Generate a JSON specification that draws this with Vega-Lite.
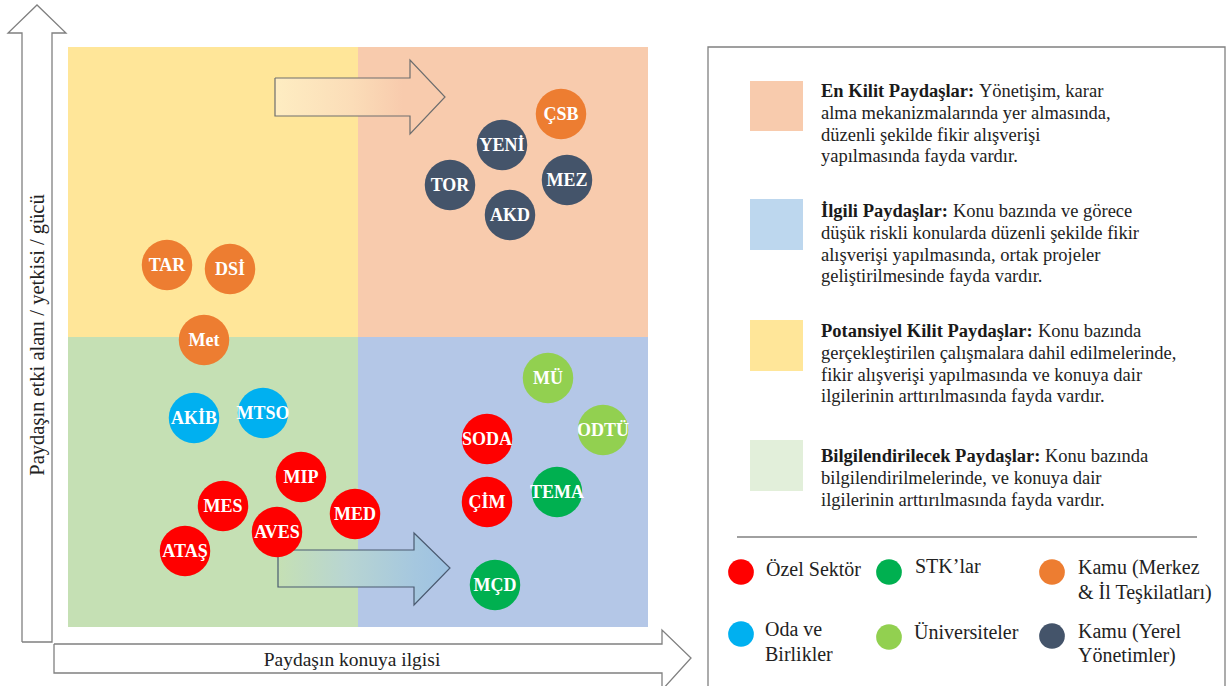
{
  "$schema": "https://vega.github.io/schema/vega-lite/v6.json",
  "width": 1231,
  "height": 686,
  "autosize": {"type": "fit", "contains": "padding"},
  "padding": 0,
  "background": "white",
  "config": {"view": {"stroke": null}, "text": {"font": "Liberation Serif"}},
  "datasets": {
    "zones": [
      {"zone": "Potansiyel Kilit", "x": 0, "x2": 290, "y": 290, "y2": 580},
      {"zone": "En Kilit", "x": 290, "x2": 580, "y": 290, "y2": 580},
      {"zone": "Bilgilendirilecek", "x": 0, "x2": 290, "y": 0, "y2": 290},
      {"zone": "İlgili", "x": 290, "x2": 580, "y": 0, "y2": 290}
    ],
    "keys": [
      {"zone": "En Kilit", "x": 682, "x2": 735, "y": 546, "y2": 496},
      {"zone": "İlgili", "x": 682, "x2": 735, "y": 428, "y2": 377},
      {"zone": "Potansiyel Kilit", "x": 682, "x2": 735, "y": 307, "y2": 256},
      {"zone": "Bilgilendirilecek", "x": 682, "x2": 735, "y": 187, "y2": 136}
    ],
    "arrowTop": [
      {"x": 207, "y": 549, "y2": 511},
      {"x": 342, "y": 549, "y2": 511},
      {"x": 342.01, "y": 567, "y2": 493},
      {"x": 377, "y": 530, "y2": 530}
    ],
    "arrowTopLine": [
      {"o": 1, "x": 207, "y": 549}, {"o": 2, "x": 342, "y": 549}, {"o": 3, "x": 342, "y": 567},
      {"o": 4, "x": 377, "y": 530}, {"o": 5, "x": 342, "y": 493}, {"o": 6, "x": 342, "y": 511},
      {"o": 7, "x": 207, "y": 511}, {"o": 8, "x": 207, "y": 549}
    ],
    "arrowBot": [
      {"x": 210, "y": 77, "y2": 40},
      {"x": 346, "y": 77, "y2": 40},
      {"x": 346.01, "y": 94, "y2": 22},
      {"x": 382, "y": 59, "y2": 59}
    ],
    "arrowBotLine": [
      {"o": 1, "x": 210, "y": 77}, {"o": 2, "x": 346, "y": 77}, {"o": 3, "x": 346, "y": 94},
      {"o": 4, "x": 382, "y": 59}, {"o": 5, "x": 346, "y": 22}, {"o": 6, "x": 346, "y": 40},
      {"o": 7, "x": 210, "y": 40}, {"o": 8, "x": 210, "y": 77}
    ],
    "frames": [
      {"g": "vertical", "o": 1, "x": -46, "y": -15}, {"g": "vertical", "o": 2, "x": -46, "y": 594},
      {"g": "vertical", "o": 3, "x": -60, "y": 594}, {"g": "vertical", "o": 4, "x": -31, "y": 622},
      {"g": "vertical", "o": 5, "x": -2, "y": 594}, {"g": "vertical", "o": 6, "x": -16, "y": 594},
      {"g": "vertical", "o": 7, "x": -16, "y": -15}, {"g": "vertical", "o": 8, "x": -46, "y": -15},
      {"g": "horizontal", "o": 1, "x": -14, "y": -17}, {"g": "horizontal", "o": 2, "x": 594, "y": -17},
      {"g": "horizontal", "o": 3, "x": 594, "y": -3}, {"g": "horizontal", "o": 4, "x": 623, "y": -31},
      {"g": "horizontal", "o": 5, "x": 594, "y": -63}, {"g": "horizontal", "o": 6, "x": 594, "y": -46},
      {"g": "horizontal", "o": 7, "x": -14, "y": -46}, {"g": "horizontal", "o": 8, "x": -14, "y": -17},
      {"g": "box", "o": 1, "x": 640, "y": -59}, {"g": "box", "o": 2, "x": 640, "y": 580},
      {"g": "box", "o": 3, "x": 1157, "y": 580}, {"g": "box", "o": 4, "x": 1157, "y": -59},
      {"g": "sep", "o": 1, "x": 669, "y": 90}, {"g": "sep", "o": 2, "x": 1129, "y": 90}
    ],
    "stakeholders": [
      {"t": "ÇSB", "cat": "Kamu (Merkez & İl Teşkilatları)", "x": 493, "y": 513},
      {"t": "YENİ", "cat": "Kamu (Yerel Yönetimler)", "x": 434, "y": 482},
      {"t": "MEZ", "cat": "Kamu (Yerel Yönetimler)", "x": 499, "y": 447},
      {"t": "TOR", "cat": "Kamu (Yerel Yönetimler)", "x": 382, "y": 442},
      {"t": "AKD", "cat": "Kamu (Yerel Yönetimler)", "x": 442, "y": 412},
      {"t": "TAR", "cat": "Kamu (Merkez & İl Teşkilatları)", "x": 99, "y": 362},
      {"t": "DSİ", "cat": "Kamu (Merkez & İl Teşkilatları)", "x": 162, "y": 358},
      {"t": "Met", "cat": "Kamu (Merkez & İl Teşkilatları)", "x": 136, "y": 287},
      {"t": "AKİB", "cat": "Oda ve Birlikler", "x": 126, "y": 209},
      {"t": "MTSO", "cat": "Oda ve Birlikler", "x": 195, "y": 214},
      {"t": "MÜ", "cat": "Üniversiteler", "x": 480, "y": 249},
      {"t": "ODTÜ", "cat": "Üniversiteler", "x": 535, "y": 197},
      {"t": "SODA", "cat": "Özel Sektör", "x": 419, "y": 188},
      {"t": "ÇİM", "cat": "Özel Sektör", "x": 419, "y": 125},
      {"t": "TEMA", "cat": "STK’lar", "x": 489, "y": 135},
      {"t": "MIP", "cat": "Özel Sektör", "x": 233, "y": 150},
      {"t": "MES", "cat": "Özel Sektör", "x": 155, "y": 121},
      {"t": "MED", "cat": "Özel Sektör", "x": 287, "y": 113},
      {"t": "ATAŞ", "cat": "Özel Sektör", "x": 117, "y": 76},
      {"t": "AVES", "cat": "Özel Sektör", "x": 209, "y": 95},
      {"t": "MÇD", "cat": "STK’lar", "x": 427, "y": 42}
    ],
    "dots": [
      {"cat": "Özel Sektör", "x": 673, "y": 55},
      {"cat": "STK’lar", "x": 821, "y": 55},
      {"cat": "Kamu (Merkez & İl Teşkilatları)", "x": 984, "y": 55},
      {"cat": "Oda ve Birlikler", "x": 673, "y": -7},
      {"cat": "Üniversiteler", "x": 821, "y": -10},
      {"cat": "Kamu (Yerel Yönetimler)", "x": 984, "y": -9}
    ],
    "dotLabels": [
      {"t": "Özel Sektör", "x": 698, "y": 57},
      {"t": "STK’lar", "x": 847, "y": 60},
      {"t": "Kamu (Merkez", "x": 1010, "y": 59},
      {"t": "& İl Teşkilatları)", "x": 1010, "y": 34},
      {"t": "Oda ve", "x": 697, "y": -3},
      {"t": "Birlikler", "x": 697, "y": -28},
      {"t": "Üniversiteler", "x": 846, "y": -6},
      {"t": "Kamu (Yerel", "x": 1010, "y": -5},
      {"t": "Yönetimler)", "x": 1010, "y": -29}
    ],
    "boldText": [
      {"t": "En Kilit Paydaşlar:", "x": 753, "y": 530},
      {"t": "İlgili Paydaşlar:", "x": 753, "y": 410},
      {"t": "Potansiyel Kilit Paydaşlar:", "x": 753, "y": 290},
      {"t": "Bilgilendirilecek Paydaşlar:", "x": 753, "y": 165}
    ],
    "plainText": [
      {"t": "Yönetişim, karar", "x": 911, "y": 530},
      {"t": "alma mekanizmalarında yer almasında,", "x": 753, "y": 508.2},
      {"t": "düzenli şekilde fikir alışverişi", "x": 753, "y": 486.4},
      {"t": "yapılmasında fayda vardır.", "x": 753, "y": 464.6},
      {"t": "Konu bazında ve görece", "x": 885, "y": 410},
      {"t": "düşük riskli konularda düzenli şekilde fikir", "x": 753, "y": 388.2},
      {"t": "alışverişi yapılmasında, ortak projeler", "x": 753, "y": 366.4},
      {"t": "geliştirilmesinde fayda vardır.", "x": 753, "y": 344.6},
      {"t": "Konu bazında", "x": 970, "y": 290},
      {"t": "gerçekleştirilen çalışmalara dahil edilmelerinde,", "x": 753, "y": 268.2},
      {"t": "fikir alışverişi yapılmasında ve konuya dair", "x": 753, "y": 246.4},
      {"t": "ilgilerinin arttırılmasında fayda vardır.", "x": 753, "y": 224.6},
      {"t": "Konu bazında", "x": 977, "y": 165},
      {"t": "bilgilendirilmelerinde, ve konuya dair", "x": 753, "y": 143.2},
      {"t": "ilgilerinin arttırılmasında fayda vardır.", "x": 753, "y": 121.4}
    ],
    "xTitle": [{"t": "Paydaşın konuya ilgisi", "x": 284, "y": -33}],
    "yTitle": [{"t": "Paydaşın etki alanı / yetkisi / gücü", "x": -30, "y": 292}]
  },
  "encoding": {
    "x": {"field": "x", "type": "quantitative", "scale": {"domain": [-68, 1163], "nice": false, "zero": false}, "axis": null},
    "y": {"field": "y", "type": "quantitative", "scale": {"domain": [-59, 627], "nice": false, "zero": false}, "axis": null}
  },
  "layer": [
    {
      "data": {"name": "zones"},
      "mark": {"type": "rect"},
      "encoding": {
        "x2": {"field": "x2"},
        "y2": {"field": "y2"},
        "color": {"field": "zone", "type": "nominal", "legend": null,
          "scale": {"domain": ["En Kilit", "İlgili", "Potansiyel Kilit", "Bilgilendirilecek"],
                    "range": ["#F8CBAD", "#B4C7E7", "#FFE699", "#C5E0B4"]}}
      }
    },
    {
      "data": {"name": "keys"},
      "mark": {"type": "rect"},
      "encoding": {
        "x2": {"field": "x2"},
        "y2": {"field": "y2"},
        "fill": {"field": "zone", "type": "nominal", "legend": null,
          "scale": {"domain": ["En Kilit", "İlgili", "Potansiyel Kilit", "Bilgilendirilecek"],
                    "range": ["#F8CBAD", "#BDD7EE", "#FFE699", "#E2EFDA"]}}
      }
    },
    {
      "data": {"name": "arrowTop"},
      "mark": {"type": "area", "interpolate": "linear", "opacity": 1,
        "color": {"gradient": "linear", "x1": 0, "y1": 0, "x2": 1, "y2": 0,
          "stops": [{"offset": 0, "color": "#FEEDC2"}, {"offset": 0.45, "color": "#FBDDB8"}, {"offset": 0.75, "color": "#F8CBAD"}, {"offset": 1, "color": "#F8CBAD"}]}},
      "encoding": {"y2": {"field": "y2"}}
    },
    {
      "data": {"name": "arrowTopLine"},
      "mark": {"type": "line", "color": "#6E6E6E", "strokeWidth": 1.2},
      "encoding": {"order": {"field": "o", "type": "quantitative"}}
    },
    {
      "data": {"name": "arrowBot"},
      "mark": {"type": "area", "interpolate": "linear", "opacity": 1,
        "color": {"gradient": "linear", "x1": 0, "y1": 0, "x2": 1, "y2": 0,
          "stops": [{"offset": 0, "color": "#C5E0B4"}, {"offset": 0.4, "color": "#B8D5D2"}, {"offset": 0.8, "color": "#A5C7DF"}, {"offset": 1, "color": "#9EC2E2"}]}},
      "encoding": {"y2": {"field": "y2"}}
    },
    {
      "data": {"name": "arrowBotLine"},
      "mark": {"type": "line", "color": "#4A5A70", "strokeWidth": 1.2},
      "encoding": {"order": {"field": "o", "type": "quantitative"}}
    },
    {
      "data": {"name": "frames"},
      "mark": {"type": "line", "color": "#808080", "strokeWidth": 1.3, "clip": true},
      "encoding": {"detail": {"field": "g", "type": "nominal"}, "order": {"field": "o", "type": "quantitative"}}
    },
    {
      "data": {"name": "stakeholders"},
      "mark": {"type": "point", "shape": "circle", "filled": true, "opacity": 1, "size": 2550},
      "encoding": {
        "color": {"field": "cat", "type": "nominal", "legend": null,
          "scale": {"domain": ["Özel Sektör", "STK’lar", "Kamu (Merkez & İl Teşkilatları)", "Oda ve Birlikler", "Üniversiteler", "Kamu (Yerel Yönetimler)"],
                    "range": ["#FF0000", "#00B050", "#ED7D31", "#00B0F0", "#92D050", "#44546A"]}}
      }
    },
    {
      "data": {"name": "stakeholders"},
      "mark": {"type": "text", "font": "Liberation Serif", "fontSize": 18, "fontWeight": "bold", "color": "white", "align": "center", "baseline": "middle", "dy": 1},
      "encoding": {"text": {"field": "t"}}
    },
    {
      "data": {"name": "dots"},
      "mark": {"type": "point", "shape": "circle", "filled": true, "opacity": 1, "size": 660},
      "encoding": {
        "color": {"field": "cat", "type": "nominal", "legend": null,
          "scale": {"domain": ["Özel Sektör", "STK’lar", "Kamu (Merkez & İl Teşkilatları)", "Oda ve Birlikler", "Üniversiteler", "Kamu (Yerel Yönetimler)"],
                    "range": ["#FF0000", "#00B050", "#ED7D31", "#00B0F0", "#92D050", "#44546A"]}}
      }
    },
    {
      "data": {"name": "dotLabels"},
      "mark": {"type": "text", "font": "Liberation Serif", "fontSize": 20, "color": "#222222", "align": "left", "baseline": "middle"},
      "encoding": {"text": {"field": "t"}}
    },
    {
      "data": {"name": "boldText"},
      "mark": {"type": "text", "font": "Liberation Serif", "fontSize": 18.5, "fontWeight": "bold", "color": "#1A1A1A", "align": "left", "baseline": "alphabetic"},
      "encoding": {"text": {"field": "t"}}
    },
    {
      "data": {"name": "plainText"},
      "mark": {"type": "text", "font": "Liberation Serif", "fontSize": 18.5, "color": "#222222", "align": "left", "baseline": "alphabetic"},
      "encoding": {"text": {"field": "t"}}
    },
    {
      "data": {"name": "xTitle"},
      "mark": {"type": "text", "font": "Liberation Serif", "fontSize": 19.5, "color": "#222222", "align": "center", "baseline": "middle"},
      "encoding": {"text": {"field": "t"}}
    },
    {
      "data": {"name": "yTitle"},
      "mark": {"type": "text", "font": "Liberation Serif", "fontSize": 20.5, "color": "#222222", "align": "center", "baseline": "middle", "angle": 270},
      "encoding": {"text": {"field": "t"}}
    }
  ],
  "resolve": {"scale": {"color": "independent", "fill": "independent"}}
}
